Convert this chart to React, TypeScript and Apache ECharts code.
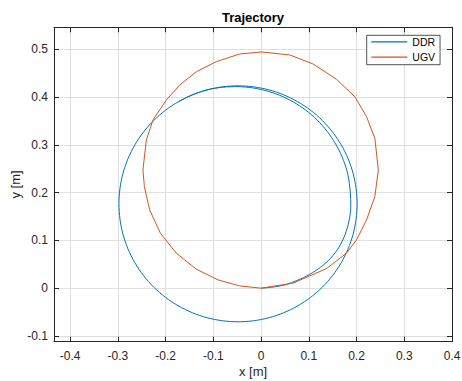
import React, { useEffect, useRef } from "react";
import * as echarts from "echarts";

const TITLE = "Trajectory";
const X_LABEL = "x [m]";
const Y_LABEL = "y [m]";
const SERIES_NAMES = ["DDR", "UGV"];

const X_TICKS = [-0.4, -0.3, -0.2, -0.1, 0, 0.1, 0.2, 0.3, 0.4];
const Y_TICKS = [-0.1, 0, 0.1, 0.2, 0.3, 0.4, 0.5];
const X_LIMITS = [-0.4337, 0.4];
const Y_LIMITS = [-0.112, 0.546];

// DDR trajectory: first, inner turn, then the settled loop
const DDR_X = [
  0.0, 0.025, 0.0509, 0.0762, 0.1015, 0.125, 0.1458, 0.1633, 0.176, 0.1843,
  0.188, 0.187, 0.1819, 0.1728, 0.1599, 0.1432, 0.1232, 0.1, 0.074, 0.0457,
  0.0155, -0.0159, -0.0482, -0.0807, -0.1128,
  -0.1437, -0.1729, -0.2001, -0.2246, -0.2461, -0.2643, -0.2787, -0.2892, -0.2955, -0.2977,
  -0.2955, -0.2892, -0.2787, -0.2643, -0.2461, -0.2246, -0.2001, -0.1729, -0.1437, -0.1128,
  -0.0808, -0.0482, -0.0156, 0.0164, 0.0473, 0.0765, 0.1037, 0.1282, 0.1497, 0.1679,
  0.1823, 0.1928, 0.1991, 0.2013, 0.1991, 0.1928, 0.1823, 0.1679, 0.1497, 0.1282,
  0.1037, 0.0765, 0.0473, 0.0164, -0.0156, -0.0482, -0.0808, -0.1128, -0.1437, -0.1729,
];
const DDR_Y = [
  0.0, 0.0024, 0.0071, 0.0165, 0.0287, 0.044, 0.0627, 0.0859, 0.112, 0.1408,
  0.1706, 0.2006, 0.2376, 0.2672, 0.2954, 0.3219, 0.3462, 0.3677, 0.386, 0.4008,
  0.4119, 0.4189, 0.4218, 0.4206, 0.4151,
  0.4047, 0.3904, 0.3725, 0.3512, 0.3269, 0.3, 0.2711, 0.2405, 0.2088, 0.1766,
  0.1444, 0.1127, 0.0821, 0.0532, 0.0263, 0.002, -0.0193, -0.0372, -0.0515, -0.0619,
  -0.0682, -0.0703, -0.0682, -0.0619, -0.0515, -0.0372, -0.0193, 0.002, 0.0263, 0.0532,
  0.0821, 0.1127, 0.1444, 0.1766, 0.2088, 0.2405, 0.2711, 0.3, 0.3269, 0.3512,
  0.3725, 0.3904, 0.4047, 0.4151, 0.4214, 0.4235, 0.4214, 0.4151, 0.4047, 0.3904,
];

// UGV trajectory
const UGV_X = [
  0.0, 0.0671, 0.1371, 0.179, 0.2, 0.221, 0.2384, 0.2457, 0.2384, 0.221,
  0.1964, 0.1581, 0.109, 0.0602, 0.0015, -0.0447, -0.0935, -0.1354, -0.1704, -0.1983,
  -0.2264, -0.2402, -0.2474, -0.2444, -0.2333, -0.2109, -0.1774, -0.1354, -0.0901, -0.0447,
  0.0,
];
const UGV_Y = [
  0.0, 0.0105, 0.041, 0.0732, 0.101, 0.1429, 0.1916, 0.2475, 0.3138, 0.359,
  0.4008, 0.4372, 0.4692, 0.4881, 0.4944, 0.4902, 0.4741, 0.4531, 0.4253, 0.3939,
  0.3521, 0.3103, 0.2475, 0.2126, 0.1638, 0.1151, 0.0732, 0.0397, 0.0174, 0.0048,
  0.0,
];

const FONT = '"Liberation Sans", Arial, Helvetica, sans-serif';
const AX = "#262626";
const GRIDC = "#dfdfdf";

function axisCommon(ticks: number[], showLabel: boolean, showSplit: boolean) {
  return {
    axisLine: { show: true, onZero: false, lineStyle: { color: AX, width: 1 } },
    axisTick: { show: true, inside: true, length: 5, customValues: ticks, lineStyle: { color: AX, width: 1 } },
    axisLabel: {
      show: showLabel,
      customValues: ticks,
      color: AX,
      fontSize: 12,
      fontFamily: FONT,
      formatter: (v: number) => String(v),
    },
    splitLine: { show: showSplit, lineStyle: { color: GRIDC, width: 1 } },
  };
}

export default function App() {
  const ref = useRef<HTMLDivElement>(null);
  useEffect(() => {
    if (!ref.current) return;
    const chart = echarts.init(ref.current, undefined, { renderer: "svg" });
    const ddr = DDR_X.map((x, i) => [x, DDR_Y[i]]);
    const ugv = UGV_X.map((x, i) => [x, UGV_Y[i]]);
    const xb = axisCommon(X_TICKS, true, true);
    const xt = axisCommon(X_TICKS, false, false);
    const yl = axisCommon(Y_TICKS, true, true);
    const yr = axisCommon(Y_TICKS, false, false);
    chart.setOption({
      animation: false,
      backgroundColor: "#ffffff",
      grid: { left: 54, top: 27.3, width: 398, height: 314.4, containLabel: false, outerBoundsMode: "none" },
      xAxis: [
        { type: "value", position: "bottom", min: X_LIMITS[0], max: X_LIMITS[1], ...xb, axisLabel: { ...xb.axisLabel, margin: 8 } },
        { type: "value", position: "top", min: X_LIMITS[0], max: X_LIMITS[1], ...xt },
      ],
      yAxis: [
        { type: "value", position: "left", min: Y_LIMITS[0], max: Y_LIMITS[1], ...yl, axisLabel: { ...yl.axisLabel, margin: 6 } },
        { type: "value", position: "right", min: Y_LIMITS[0], max: Y_LIMITS[1], ...yr },
      ],
      legend: {
        show: true,
        orient: "vertical",
        left: 366.7,
        top: 35.3,
        padding: [1, 5, 2, 4],
        itemWidth: 36,
        itemHeight: 12,
        itemGap: 4.4,
        backgroundColor: "#ffffff",
        borderColor: AX,
        borderWidth: 0.8,
        itemStyle: { opacity: 0, borderWidth: 0 },
        lineStyle: { width: 1.2 },
        textStyle: { fontSize: 10.5, fontFamily: FONT, color: "#000" },
        data: SERIES_NAMES,
      },
      series: [
        {
          name: SERIES_NAMES[0],
          type: "line",
          data: ddr,
          showSymbol: false,
          symbol: "none",
          smooth: 0.3,
          lineStyle: { color: "#0072BD", width: 1 },
          itemStyle: { color: "#0072BD" },
          z: 2,
        },
        {
          name: SERIES_NAMES[1],
          type: "line",
          data: ugv,
          showSymbol: false,
          symbol: "none",
          lineStyle: { color: "#D95319", width: 1 },
          itemStyle: { color: "#D95319" },
          z: 3,
        },
      ],
      graphic: [
        {
          type: "text",
          x: 253,
          y: 17.5,
          style: { text: TITLE, fontSize: 13, fontWeight: "bold", fontFamily: FONT, fill: "#000", align: "center", verticalAlign: "middle" },
        },
        {
          type: "text",
          x: 253,
          y: 371.5,
          style: { text: X_LABEL, fontSize: 13, fontFamily: FONT, fill: AX, align: "center", verticalAlign: "middle" },
        },
        {
          type: "text",
          x: 15.5,
          y: 184.5,
          rotation: Math.PI / 2,
          style: { text: Y_LABEL, fontSize: 13, fontFamily: FONT, fill: AX, align: "center", verticalAlign: "middle" },
        },
      ],
    });
    return () => chart.dispose();
  }, []);
  return (
    <div
      ref={ref}
      style={{ position: "fixed", left: 0, top: 0, width: 462, height: 381, background: "#fff" }}
    />
  );
}
